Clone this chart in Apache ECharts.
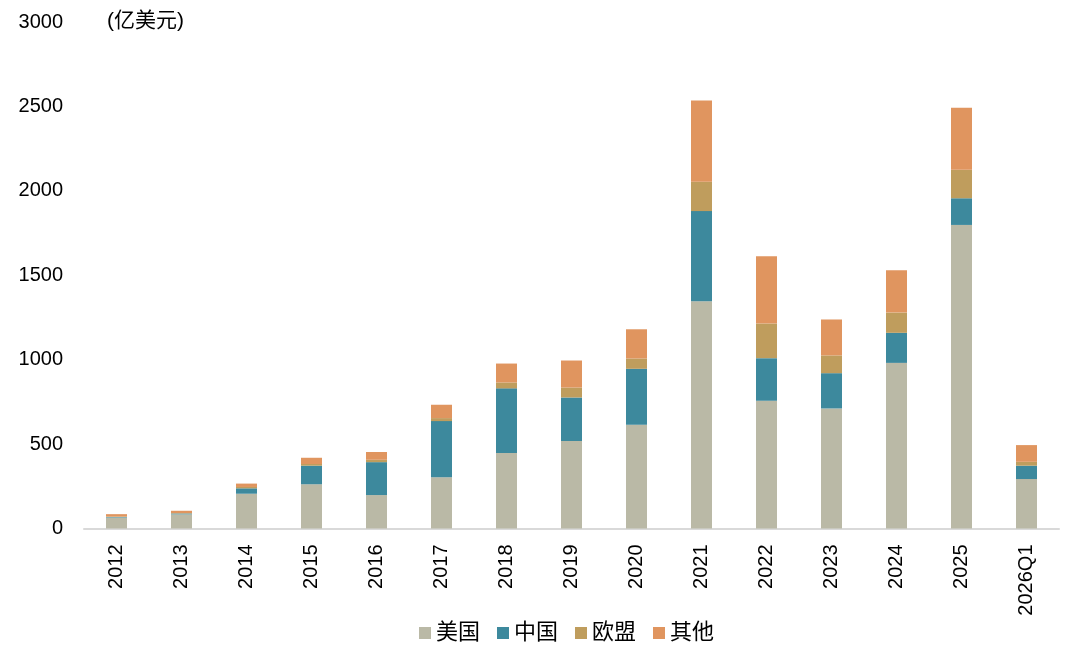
<!DOCTYPE html>
<html>
<head>
<meta charset="utf-8">
<script src="https://cdn.jsdelivr.net/npm/echarts@6/dist/echarts.min.js"></script>
<style>
html, body { margin: 0; padding: 0; background: #fff; }
#chart { width: 1080px; height: 656px; }
</style>
</head>
<body>
<div id="chart"></div>
<script>
var years = ['2012', '2013', '2014', '2015', '2016', '2017', '2018', '2019', '2020', '2021', '2022', '2023', '2024', '2025', '2026Q1'];
var usa = [65, 84, 206, 262, 198, 303, 447, 518, 614, 1346, 756, 711, 981, 1798, 293];
var china = [3, 5, 32, 110, 195, 333, 383, 258, 332, 534, 253, 209, 178, 158, 79];
var eu = [3, 2, 8, 10, 14, 18, 35, 59, 61, 174, 205, 105, 120, 169, 23];
var other = [14, 14, 20, 37, 46, 79, 112, 160, 173, 481, 398, 213, 251, 367, 99];
var yTicks = [0, 500, 1000, 1500, 2000, 2500, 3000];

var colors = ['#bab9a6', '#3d899d', '#bf9d5d', '#e0955f'];
var font = 'Liberation Sans, Arial, Noto Sans CJK SC, sans-serif';

function barSeries(name, data) {
    return {
        name: name,
        type: 'bar',
        stack: 'total',
        barWidth: 21,
        data: data
    };
}

var myChart = echarts.init(document.getElementById('chart'));
var option = {
    animation: false,
    color: colors,
    textStyle: { fontFamily: font },
    grid: { left: 84, right: 21, top: 22, bottom: 127.5 },
    graphic: [{
        type: 'text',
        left: 107,
        top: 11,
        style: { text: '(亿美元)', font: '21px ' + font, fill: '#000' }
    }],
    legend: {
        left: 414,
        top: 617,
        itemWidth: 12,
        itemHeight: 12,
        itemGap: 17,
        icon: 'rect',
        textStyle: { fontSize: 22, color: '#000', fontFamily: font },
        data: ['美国', '中国', '欧盟', '其他']
    },
    xAxis: {
        type: 'category',
        data: years,
        axisLine: { lineStyle: { color: '#d9d9d9', width: 2 } },
        axisTick: { show: false },
        axisLabel: {
            rotate: 90,
            interval: 0,
            margin: 16,
            fontSize: 20,
            color: '#000',
            fontFamily: font
        }
    },
    yAxis: {
        type: 'value',
        min: yTicks[0],
        max: yTicks[yTicks.length - 1],
        interval: 500,
        axisLine: { show: false },
        axisTick: { show: false },
        splitLine: { show: false },
        axisLabel: {
            fontSize: 20,
            color: '#000',
            margin: 21,
            fontFamily: font,
            formatter: function (v) { return String(v); }
        }
    },
    series: [
        barSeries('美国', usa),
        barSeries('中国', china),
        barSeries('欧盟', eu),
        barSeries('其他', other)
    ]
};
myChart.setOption(option);
</script>
</body>
</html>
